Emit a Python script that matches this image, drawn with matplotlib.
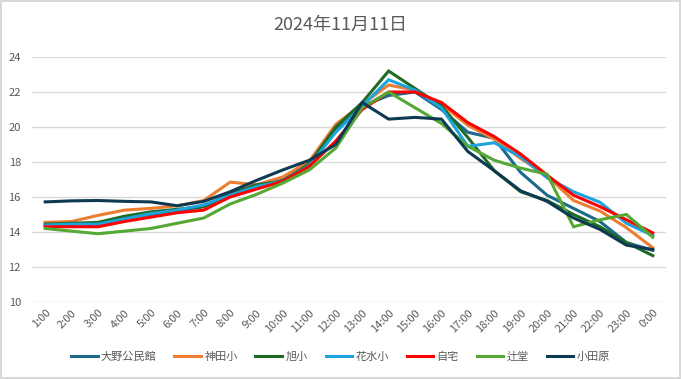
import numpy as np
import matplotlib.pyplot as plt

plt.rcParams['font.family'] = ['Noto Sans CJK JP', 'DejaVu Sans']

hours = ['1:00', '2:00', '3:00', '4:00', '5:00', '6:00', '7:00', '8:00', '9:00', '10:00',
         '11:00', '12:00', '13:00', '14:00', '15:00', '16:00', '17:00', '18:00', '19:00',
         '20:00', '21:00', '22:00', '23:00', '0:00']

oono = [14.4, 14.4, 14.45, 14.8, 15.0, 15.2, 15.45, 16.1, 16.5, 17.0, 17.9, 19.9,
        21.2, 21.8, 22.0, 21.0, 19.7, 19.35, 17.4, 16.1, 15.35, 14.6, 13.4, 12.95]
kanda = [14.55, 14.6, 14.95, 15.25, 15.35, 15.5, 15.8, 16.85, 16.7, 17.15, 18.05, 20.15,
         21.3, 22.4, 22.1, 21.3, 20.1, 19.3, 18.2, 17.2, 15.8, 15.2, 14.25, 13.1]
asahi = [14.45, 14.5, 14.55, 14.9, 15.15, 15.3, 15.45, 16.2, 16.7, 16.9, 17.9, 20.0,
         21.4, 23.2, 22.2, 21.2, 19.4, 17.5, 16.3, 15.8, 15.0, 14.3, 13.4, 12.65]
hanamizu = [14.4, 14.45, 14.45, 14.75, 15.05, 15.25, 15.55, 16.1, 16.6, 16.9, 17.8, 19.7,
            21.2, 22.7, 22.1, 21.1, 18.9, 19.1, 18.3, 17.1, 16.3, 15.7, 14.5, 13.8]
jitaku = [14.3, 14.3, 14.3, 14.6, 14.85, 15.1, 15.25, 16.0, 16.45, 16.9, 17.75, 19.2,
          21.0, 22.0, 22.0, 21.4, 20.25, 19.45, 18.45, 17.25, 16.1, 15.45, 14.7, 13.95]
tsujido = [14.2, 14.05, 13.9, 14.05, 14.2, 14.5, 14.8, 15.6, 16.15, 16.8, 17.55, 18.8,
           21.1, 22.0, 21.1, 20.2, 18.9, 18.1, 17.65, 17.3, 14.3, 14.7, 15.0, 13.7]
odawara = [15.72, 15.78, 15.8, 15.75, 15.72, 15.5, 15.75, 16.3, 16.95, 17.55, 18.1, 19.0,
           21.4, 20.45, 20.55, 20.45, 18.6, 17.5, 16.35, 15.75, 14.8, 14.15, 13.25, 13.0]

names = ['大野公民館', '神田小', '旭小', '花水小', '自宅', '辻堂', '小田原']
series = [oono, kanda, asahi, hanamizu, jitaku, tsujido, odawara]
colors = ['#1B6A8C', '#ED7D31', '#1E6B26', '#1AA3DD', '#FF0000', '#55A834', '#0D3A52']

fig = plt.figure(figsize=(6.81, 3.79), dpi=100)
fig.patch.set_edgecolor('#D9D9D9')
fig.patch.set_linewidth(1.5)
ax = fig.add_axes([32 / 681, 77 / 379, 634 / 681, 245 / 379])

x = np.arange(len(hours))
for name, vals, c in zip(names, series, colors):
    ax.plot(x, vals, color=c, lw=2.2, label=name, solid_joinstyle='miter')

ax.set_xlim(-0.5, len(hours) - 0.5)
ax.set_ylim(10, 24)
ax.set_yticks(range(10, 25, 2))
ax.grid(axis='y', color='#D9D9D9', lw=1)
ax.set_axisbelow(True)
for s in ax.spines.values():
    s.set_visible(False)
ax.tick_params(length=0, colors='#595959', labelsize=8)
ax.tick_params(axis='y', pad=8)
ax.set_xticks(x)
ax.set_xticklabels(hours, rotation=45, ha='right', rotation_mode='anchor')
ax.tick_params(axis='x', pad=4)

fig.text(0.5, 1 - 25 / 379, '2024年11月11日', ha='center', va='center', fontsize=13, color='#595959')

fig.legend(loc='center', bbox_to_anchor=(0.5, 1 - 357 / 379), ncol=7, frameon=False,
           fontsize=8, handlelength=2.4, handletextpad=0.3, columnspacing=1.6,
           labelcolor='#595959')

fig.savefig('out.png', dpi=100)
